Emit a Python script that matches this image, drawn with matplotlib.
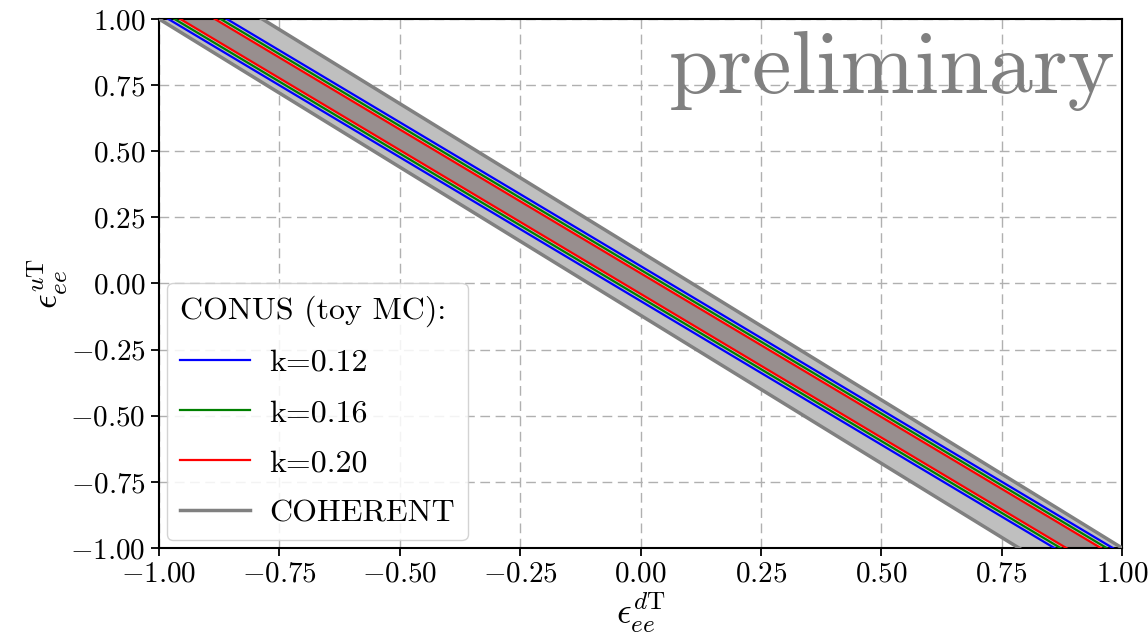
import numpy as np
import matplotlib
matplotlib.use("Agg")
import matplotlib.pyplot as plt

plt.rcParams['font.family'] = 'serif'
plt.rcParams['font.serif'] = ['cmr10']
plt.rcParams['mathtext.fontset'] = 'cm'
plt.rcParams['axes.formatter.use_mathtext'] = True

# COHERENT band: eps_u = slope * eps_d +/- halfwidth
coherent_slope = -1.12
coherent_halfwidth = 0.12

# CONUS (toy MC) bands
conus_slope = -1.087
k_values = [0.12, 0.16, 0.20]
conus_halfwidth = [0.066, 0.052, 0.039]
conus_colors = ['b', 'g', 'r']

ticks = [-1.00, -0.75, -0.50, -0.25, 0.00, 0.25, 0.50, 0.75, 1.00]

x = np.linspace(-1.5, 1.5, 400)

fig = plt.figure(figsize=(11.48, 6.41), dpi=100)
ax = fig.add_axes([0.1385, 0.1451, 0.8389, 0.8253])

# COHERENT allowed region
ax.fill_between(x, coherent_slope * x - coherent_halfwidth,
                coherent_slope * x + coherent_halfwidth,
                color='#bfbfbf', lw=0, zorder=1)

# inner region (k=0.20)
ax.fill_between(x, conus_slope * x - conus_halfwidth[-1],
                conus_slope * x + conus_halfwidth[-1],
                color='#988e8e', lw=0, zorder=2)

for k, hw, c in zip(k_values, conus_halfwidth, conus_colors):
    ax.plot(x, conus_slope * x + hw, color=c, lw=1.6, zorder=3,
            label='k=%.2f' % k)
    ax.plot(x, conus_slope * x - hw, color=c, lw=1.6, zorder=3)

ax.plot(x, coherent_slope * x + coherent_halfwidth, color='gray', lw=2.5,
        zorder=4, label='COHERENT')
ax.plot(x, coherent_slope * x - coherent_halfwidth, color='gray', lw=2.5,
        zorder=4)

ax.set_xlim(-1, 1)
ax.set_ylim(-1, 1)
ax.set_xticks(ticks)
ax.set_yticks(ticks)
fmt = matplotlib.ticker.FuncFormatter(lambda v, pos: r'$%.2f$' % v)
ax.xaxis.set_major_formatter(fmt)
ax.yaxis.set_major_formatter(fmt)
ax.tick_params(labelsize=21, width=1.3, length=6)
for sp in ax.spines.values():
    sp.set_linewidth(1.5)

ax.grid(True, color='#b0b0b0', lw=1.0, linestyle=(0, (7, 4)), zorder=0)
ax.set_axisbelow(True)

ax.set_xlabel(r'$\epsilon_{ee}^{d\mathrm{T}}$', fontsize=26, labelpad=2)
ax.set_ylabel(r'$\epsilon_{ee}^{u\mathrm{T}}$', fontsize=26, labelpad=0)

ax.text(0.993, 0.86, 'preliminary', transform=ax.transAxes, ha='right',
        va='baseline', fontsize=64, color='gray', zorder=5)

leg = ax.legend(loc='lower left', title='CONUS (toy MC):', fontsize=23,
                title_fontsize=23, handlelength=2.2, handletextpad=0.6,
                labelspacing=0.68, borderaxespad=0.25, framealpha=0.85)
leg._legend_box.align = 'left'
leg.set_zorder(10)

fig.savefig('out.png', dpi=100)
